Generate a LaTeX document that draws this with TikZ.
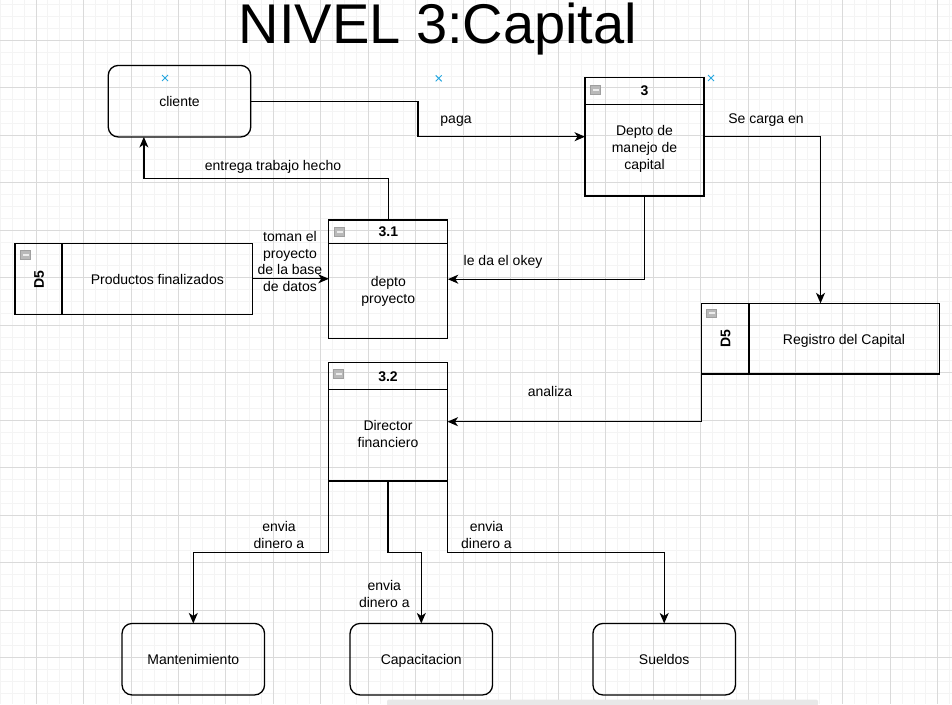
\documentclass[tikz,border=0pt]{standalone}
\usepackage{fontspec}
\setmainfont{Liberation Sans}
\usetikzlibrary{arrows.meta,calc}
\definecolor{gridminor}{HTML}{F4F4F4}
\definecolor{gridmajor}{HTML}{DADADA}
\definecolor{selblue}{HTML}{29A8E0}
\begin{document}
\begin{tikzpicture}[x=1pt,y=-1pt,
  every node/.style={font=\fontsize{14}{16.8}\selectfont, text=black},
  edge/.style={draw=black, line width=1.3pt, -{Stealth[length=10.5pt,width=9pt,inset=3pt]}},
  plainline/.style={draw=black, line width=1.3pt},
  procbox/.style={draw=black, line width=1.3pt, outer sep=0pt, minimum width=119pt, minimum height=118.5pt, inner sep=0pt},
  roundbox/.style={draw=black, line width=1.3pt, outer sep=0pt, rounded corners=10pt, minimum width=142.5pt, minimum height=71.5pt, inner sep=0pt},
  storebox/.style={draw=black, line width=1.3pt, outer sep=0pt, minimum width=237.5pt, minimum height=71pt, inner sep=0pt},
  lbl/.style={align=center, inner sep=0pt},
  one/.style={inner sep=0pt, text height=10.2pt, text depth=2.9pt},
  hdr/.style={font=\fontsize{14}{16.8}\selectfont\bfseries, inner sep=0pt, text height=10.2pt, text depth=0pt},
  collapseicon/.pic={
    \filldraw[fill=gray!55, draw=gray!75, line width=0.6pt] (-5,-4.3) rectangle (5,4.3);
    \fill[gray!15] (-3.2,-0.9) rectangle (3.2,0.9);
  },
  selx/.pic={
    \draw[selblue, line width=1pt] (-3,-3) -- (3,3) (-3,3) -- (3,-3);
  }
]
\useasboundingbox (0,0) rectangle (952,704);
% grid
\begin{scope}
\clip (0,0) rectangle (952,704);
\foreach \k in {-4,...,78} {
  \draw[gridminor, line width=0.8pt] ({36+11.865*\k},0) -- ({36+11.865*\k},704);
}
\foreach \k in {-4,...,57} {
  \draw[gridminor, line width=0.8pt] (0,{40.3+11.87*\k}) -- (952,{40.3+11.87*\k});
}
\foreach \k in {-1,...,20} {
  \draw[gridmajor, line width=0.8pt] ({36+47.46*\k},0) -- ({36+47.46*\k},704);
}
\foreach \k in {-1,...,14} {
  \draw[gridmajor, line width=0.8pt] (0,{40.3+47.5*\k}) -- (952,{40.3+47.5*\k});
}
\end{scope}
% scrollbar
\fill[gray!18, rounded corners=2pt] (387,699.5) rectangle (818,706);

% title
\node[anchor=base, inner sep=0pt] (title) at (438,43.5) {\fontsize{56}{60}\selectfont NIVEL 3:Capital};

% cliente
\node[roundbox] (cliente) at (179.5,101.2) {};
\node[one] (clientet) at (179.5,102.4) {cliente};
\pic at (165,78) {selx};
\pic at (438.7,78.3) {selx};
\pic at (711,78) {selx};

% process 3
\node[procbox] (p3) at (644.5,136.7) {};
\draw[plainline] (585,104.3) -- (704,104.3);
\node[hdr] (p3h) at (644.5,90.6) {3};
\pic at (595.7,89.7) {collapseicon};
\node[lbl] (p3t) at (644.5,148.7) {Depto de\\manejo de\\capital};

% process 3.1
\node[procbox] (p31) at (388.3,279.2) {};
\draw[plainline] (329,243.3) -- (447.7,243.3);
\node[hdr] (p31h) at (388.3,231.6) {3.1};
\pic at (339.7,232) {collapseicon};
\node[lbl] (p31t) at (388.3,291) {depto\\proyecto};

% process 3.2
\node[procbox] (p32) at (388,421.7) {};
\draw[plainline] (328.3,389.3) -- (447.7,389.3);
\node[hdr] (p32h) at (388,376.2) {3.2};
\pic at (338.7,374) {collapseicon};
\node[lbl] (p32t) at (388,434) {Director\\financiero};

% data store D5 Productos
\node[storebox] (d5a) at (133.8,278.8) {};
\draw[plainline] ($(d5a.north west)+(47,0)$) -- ($(d5a.south west)+(47,0)$);
\pic at (25.7,254.7) {collapseicon};
\node[hdr, rotate=90] (d5at) at (38.8,279.5) {D5};
\node[one] (d5an) at (157.3,280.4) {Productos finalizados};

% data store D5 Registro
\node[storebox, minimum width=237.6pt, minimum height=70.7pt] (reg) at (820.5,338.7) {};
\draw[plainline] ($(reg.north west)+(47.3,0)$) -- ($(reg.south west)+(47.3,0)$);
\pic at (711.7,313.3) {collapseicon};
\node[hdr, rotate=90] (regt) at (725.3,338.5) {D5};
\node[one] (regn) at (844,340.4) {Registro del Capital};

% bottom nodes
\node[roundbox] (mant) at (193.3,659.2) {};
\node[one] (mantt) at (193.3,660.6) {Mantenimiento};
\node[roundbox] (cap) at (421.3,659.2) {};
\node[one] (capt) at (421.3,660.6) {Capacitacion};
\node[roundbox] (sue) at (664.2,659.2) {};
\node[one] (suet) at (664.2,660.6) {Sueldos};

% helper coordinates
\coordinate (bendpaga) at (418,0);
\coordinate (yent) at (0,178.3);
\coordinate (ybot) at (0,552.3);
\coordinate (cq) at ($(cliente.south west)!0.25!(cliente.south east)$);

% edges
\draw[edge] (cliente.east) -- (cliente.east -| bendpaga) |- (p3.west);
\draw[edge] (p3.east) -| (reg.north);
\draw[edge] (p3.south) |- (p31.east);
\draw[edge] (p31.north) -- (p31.north |- yent) -| (cq);
\draw[edge] (d5a.east) -- (d5a.east -| p31.west);
\draw[edge] (reg.south west) |- (p32.east);
\draw[edge] (p32.south west) -- (p32.south west |- ybot) -| (mant.north);
\draw[edge] (p32.south) -- (p32.south |- ybot) -| (cap.north);
\draw[edge] (p32.south east) -- (p32.south east |- ybot) -| (sue.north);

% edge labels
\node[one] (lpaga) at (456,120) {paga};
\node[one] (lcarga) at (766,120.3) {Se carga en};
\node[one] (lentrega) at (273,167.3) {entrega trabajo hecho};
\node[one] (lokey) at (503,262) {le da el okey};
\node[lbl] (ltoman) at (290,261.5) {toman el\\proyecto\\de la base\\de datos};
\node[one] (lanaliza) at (550,393.3) {analiza};
\node[lbl] (lenv1) at (279,535) {envia\\dinero a};
\node[lbl] (lenv2) at (384.3,594) {envia\\dinero a};
\node[lbl] (lenv3) at (486.5,535) {envia\\dinero a};
\end{tikzpicture}
\end{document}
